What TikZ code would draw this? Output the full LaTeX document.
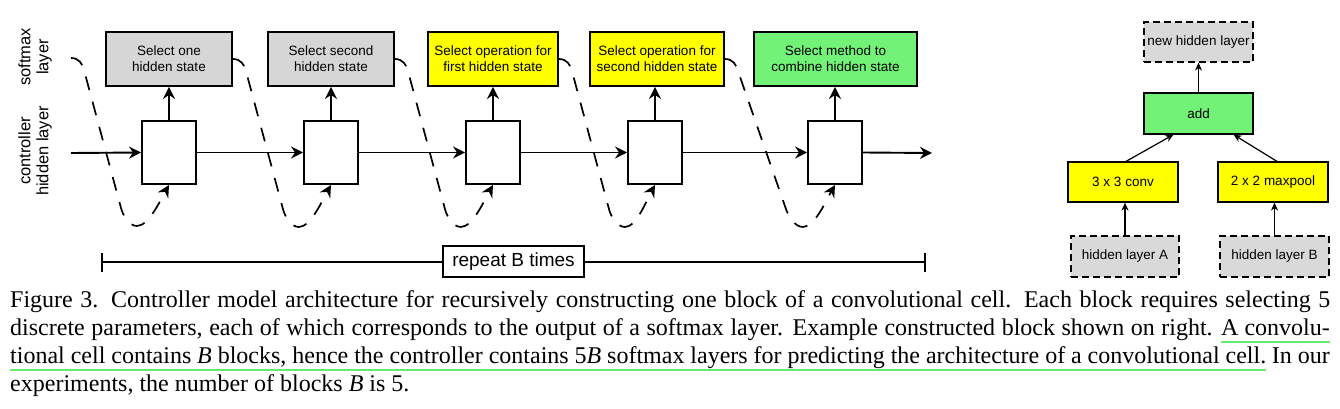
\documentclass[tikz,border=0pt]{standalone}
\usepackage{fontspec}
\setmainfont{Liberation Sans}
\newfontfamily\capfont{Liberation Serif}
\usetikzlibrary{arrows.meta,calc}
\definecolor{smgray}{RGB}{214,214,214}
\definecolor{dgray}{RGB}{217,217,217}
\definecolor{ylw}{RGB}{255,255,0}
\definecolor{grn}{RGB}{115,242,120}
\definecolor{ulgreen}{RGB}{105,232,105}
\newlength\wAc
\newlength\wIo
\newcommand\capsize{\capfont\fontsize{24}{28}\selectfont}
\begin{document}
\settowidth{\wAc}{\capsize A convolu-}%
\settowidth{\wIo}{\capsize In our}%
\begin{tikzpicture}[x=1pt,y=-1pt,
  smbox/.style={draw=black, line width=1.9pt, inner sep=0pt, minimum height=54pt, align=center,
    font=\fontsize{13.5}{16}\selectfont},
  hidbox/.style={draw=black, line width=1.9pt, fill=white, inner sep=0pt, minimum width=54pt, minimum height=63pt},
  rbox/.style={draw=black, line width=1.2pt, inner sep=0pt, minimum width=109pt, minimum height=40pt,
    font=\fontsize{13.5}{16}\selectfont},
  dbox/.style={rbox, fill=dgray, dash pattern=on 7pt off 4pt},
  tipA/.style={-{Stealth[length=12pt,width=12pt,inset=4pt]}},
  thick arrow/.style={tipA, line width=1.9pt},
  dcurve/.style={tipA, line width=1.7pt, dash pattern=on 14pt off 12pt},
  small arrow/.style={-{Stealth[length=8pt,width=7pt,inset=2.5pt]}, line width=1.2pt},
  sidelabel/.style={rotate=90, align=center, inner sep=0pt, font=\fontsize{16.5}{18}\selectfont},
  capline/.style={anchor=base west, inner sep=0pt, font=\capsize},
  capend/.style={anchor=base east, inner sep=0pt, font=\capsize},
  uline/.style={draw=ulgreen, line width=2.5pt},
]
\useasboundingbox (0,0) rectangle (1340,409);

% side labels
\node[sidelabel] (lsm) at (35,57) {softmax\\layer};
\node[sidelabel] (lch) at (35,151) {controller\\hidden layer};

% softmax boxes
\node[smbox, fill=smgray, minimum width=126pt] (sm1) at (169,59) {Select one\\hidden state};
\node[smbox, fill=smgray, minimum width=126pt] (sm2) at (331,59) {Select second\\hidden state};
\node[smbox, fill=ylw, minimum width=130pt] (sm3) at (493,59) {Select operation for\\first hidden state};
\node[smbox, fill=ylw, minimum width=134pt] (sm4) at (657,59) {Select operation for\\second hidden state};
\node[smbox, fill=grn, minimum width=163pt] (sm5) at (835.5,59) {Select method to\\combine hidden state};

% hidden boxes
\node[hidbox] (h1) at (169,152.5) {};
\node[hidbox] (h2) at (331,152.5) {};
\node[hidbox] (h3) at (493,152.5) {};
\node[hidbox] (h4) at (655,152.5) {};
\node[hidbox] (h5) at (835,152.5) {};

% horizontal chain
\coordinate (hin) at (71,153);
\coordinate (hout) at (932,153);
\draw[thick arrow] (hin) -- (h1.west);
\draw[thick arrow] (h1.east) -- (h2.west);
\draw[thick arrow] (h2.east) -- (h3.west);
\draw[thick arrow] (h3.east) -- (h4.west);
\draw[thick arrow] (h4.east) -- (h5.west);
\draw[thick arrow] (h5.east) -- (hout);

% up arrows
\draw[thick arrow] (h1.north) -- (sm1.south);
\draw[thick arrow] (h2.north) -- (sm2.south);
\draw[thick arrow] (h3.north) -- (sm3.south);
\draw[thick arrow] (h4.north) -- (h4.north |- sm4.south);
\draw[thick arrow] (h5.north) -- (h5.north |- sm5.south);

% dashed feedback curves
\coordinate (c0) at (71,58);
\draw[dcurve] (c0) .. controls +(8,0) and +(-1.5,-6) .. ++(13,12) -- ++(37,138)
  .. controls +(2,7.7) and +(-8,0) .. ++(16,18) .. controls +(12,0) and +(-7.5,13) .. (h1.south);
\draw[dcurve] (sm1.east) .. controls +(8,0) and +(-1.5,-6) .. ++(13,12) -- ++(37,138)
  .. controls +(2,7.7) and +(-8,0) .. ++(16,18) .. controls +(12,0) and +(-7.5,13) .. (h2.south);
\draw[dcurve] (sm2.east) .. controls +(8,0) and +(-1.5,-6) .. ++(13,12) -- ++(37,138)
  .. controls +(2,7.7) and +(-8,0) .. ++(16,18) .. controls +(12,0) and +(-7.5,13) .. (h3.south);
\draw[dcurve] (sm3.east) .. controls +(8,0) and +(-1.5,-6) .. ++(13,12) -- ++(37,138)
  .. controls +(2,7.7) and +(-8,0) .. ++(16,18) .. controls +(12,0) and +(-7.5,13) .. (h4.south);
\draw[dcurve] (sm4.east) .. controls +(8,0) and +(-1.5,-6) .. ++(13,12) -- ++(48,138)
  .. controls +(2.5,7.5) and +(-8,0) .. ++(17,18) .. controls +(12,0) and +(-7.5,13) .. (h5.south);

% repeat B times
\node[draw=black, line width=1.3pt, fill=white, inner sep=0pt, minimum width=141pt, minimum height=31pt,
  font=\fontsize{19}{22}\selectfont] (rep) at (513.5,261.5) {repeat B times};
\coordinate (rL) at (101,262);
\coordinate (rR) at (926,262);
\draw[line width=1.8pt, -{Bar[width=19pt]}] (rep.west |- rL) -- (rL);
\draw[line width=1.8pt, -{Bar[width=19pt]}] (rep.east |- rR) -- (rR);

% right example block
\node[dbox] (nhl) at (1198.5,42) {new hidden layer};
\node[rbox, fill=grn, minimum height=41pt] (add) at (1198.5,113.5) {add};
\node[rbox, fill=ylw, minimum width=110pt] (conv) at (1123,182) {3 x 3 conv};
\node[rbox, fill=ylw, minimum width=110pt] (mp) at (1273,182) {2 x 2 maxpool};
\node[dbox, minimum width=108pt, minimum height=41pt] (hA) at (1125,256.5) {hidden layer A};
\node[dbox, minimum height=41pt] (hB) at (1274.5,256.5) {hidden layer B};
\draw[small arrow] (add.north) -- (nhl.south);
\draw[small arrow] ($(conv.north)+(3,0)$) -- ($(add.south)+(-25,0)$);
\draw[small arrow] ($(mp.north)+(4,0)$) -- ($(add.south)+(35,0)$);
\draw[small arrow] (hA.north) -- (hA.north |- conv.south);
\draw[small arrow] (hB.north) -- (hB.north |- mp.south);

% caption
\node[capline] (cap1) at (10,307) {\makebox[1320pt][s]{Figure 3. Controller model architecture for recursively constructing one block of a convolutional cell.  Each block requires selecting 5}};
\node[capend] (cap2b) at (1330,335) {A convolu-};
\node[capline] (cap2a) at (10,335) {\makebox[\dimexpr 1320pt-\wAc-9pt\relax][s]{discrete parameters, each of which corresponds to the output of a softmax layer. Example constructed block shown on right.}};
\node[capend] (cap3b) at (1330,363) {In our};
\node[capline] (cap3a) at (10,363) {\makebox[\dimexpr 1320pt-\wIo-6pt\relax][s]{tional cell contains \textit{B} blocks, hence the controller contains 5\textit{B} softmax layers for predicting the architecture of a convolutional cell.}};
\node[capline] (cap4) at (10,391) {experiments, the number of blocks \textit{B} is 5.};
\draw[uline] ($(cap2b.base west)+(0,7)$) -- ($(cap2b.base east)+(0,7)$);
\draw[uline] ($(cap3a.base west)+(0,7)$) -- ($(cap3a.base east)+(0,7)$);
\end{tikzpicture}
\end{document}
